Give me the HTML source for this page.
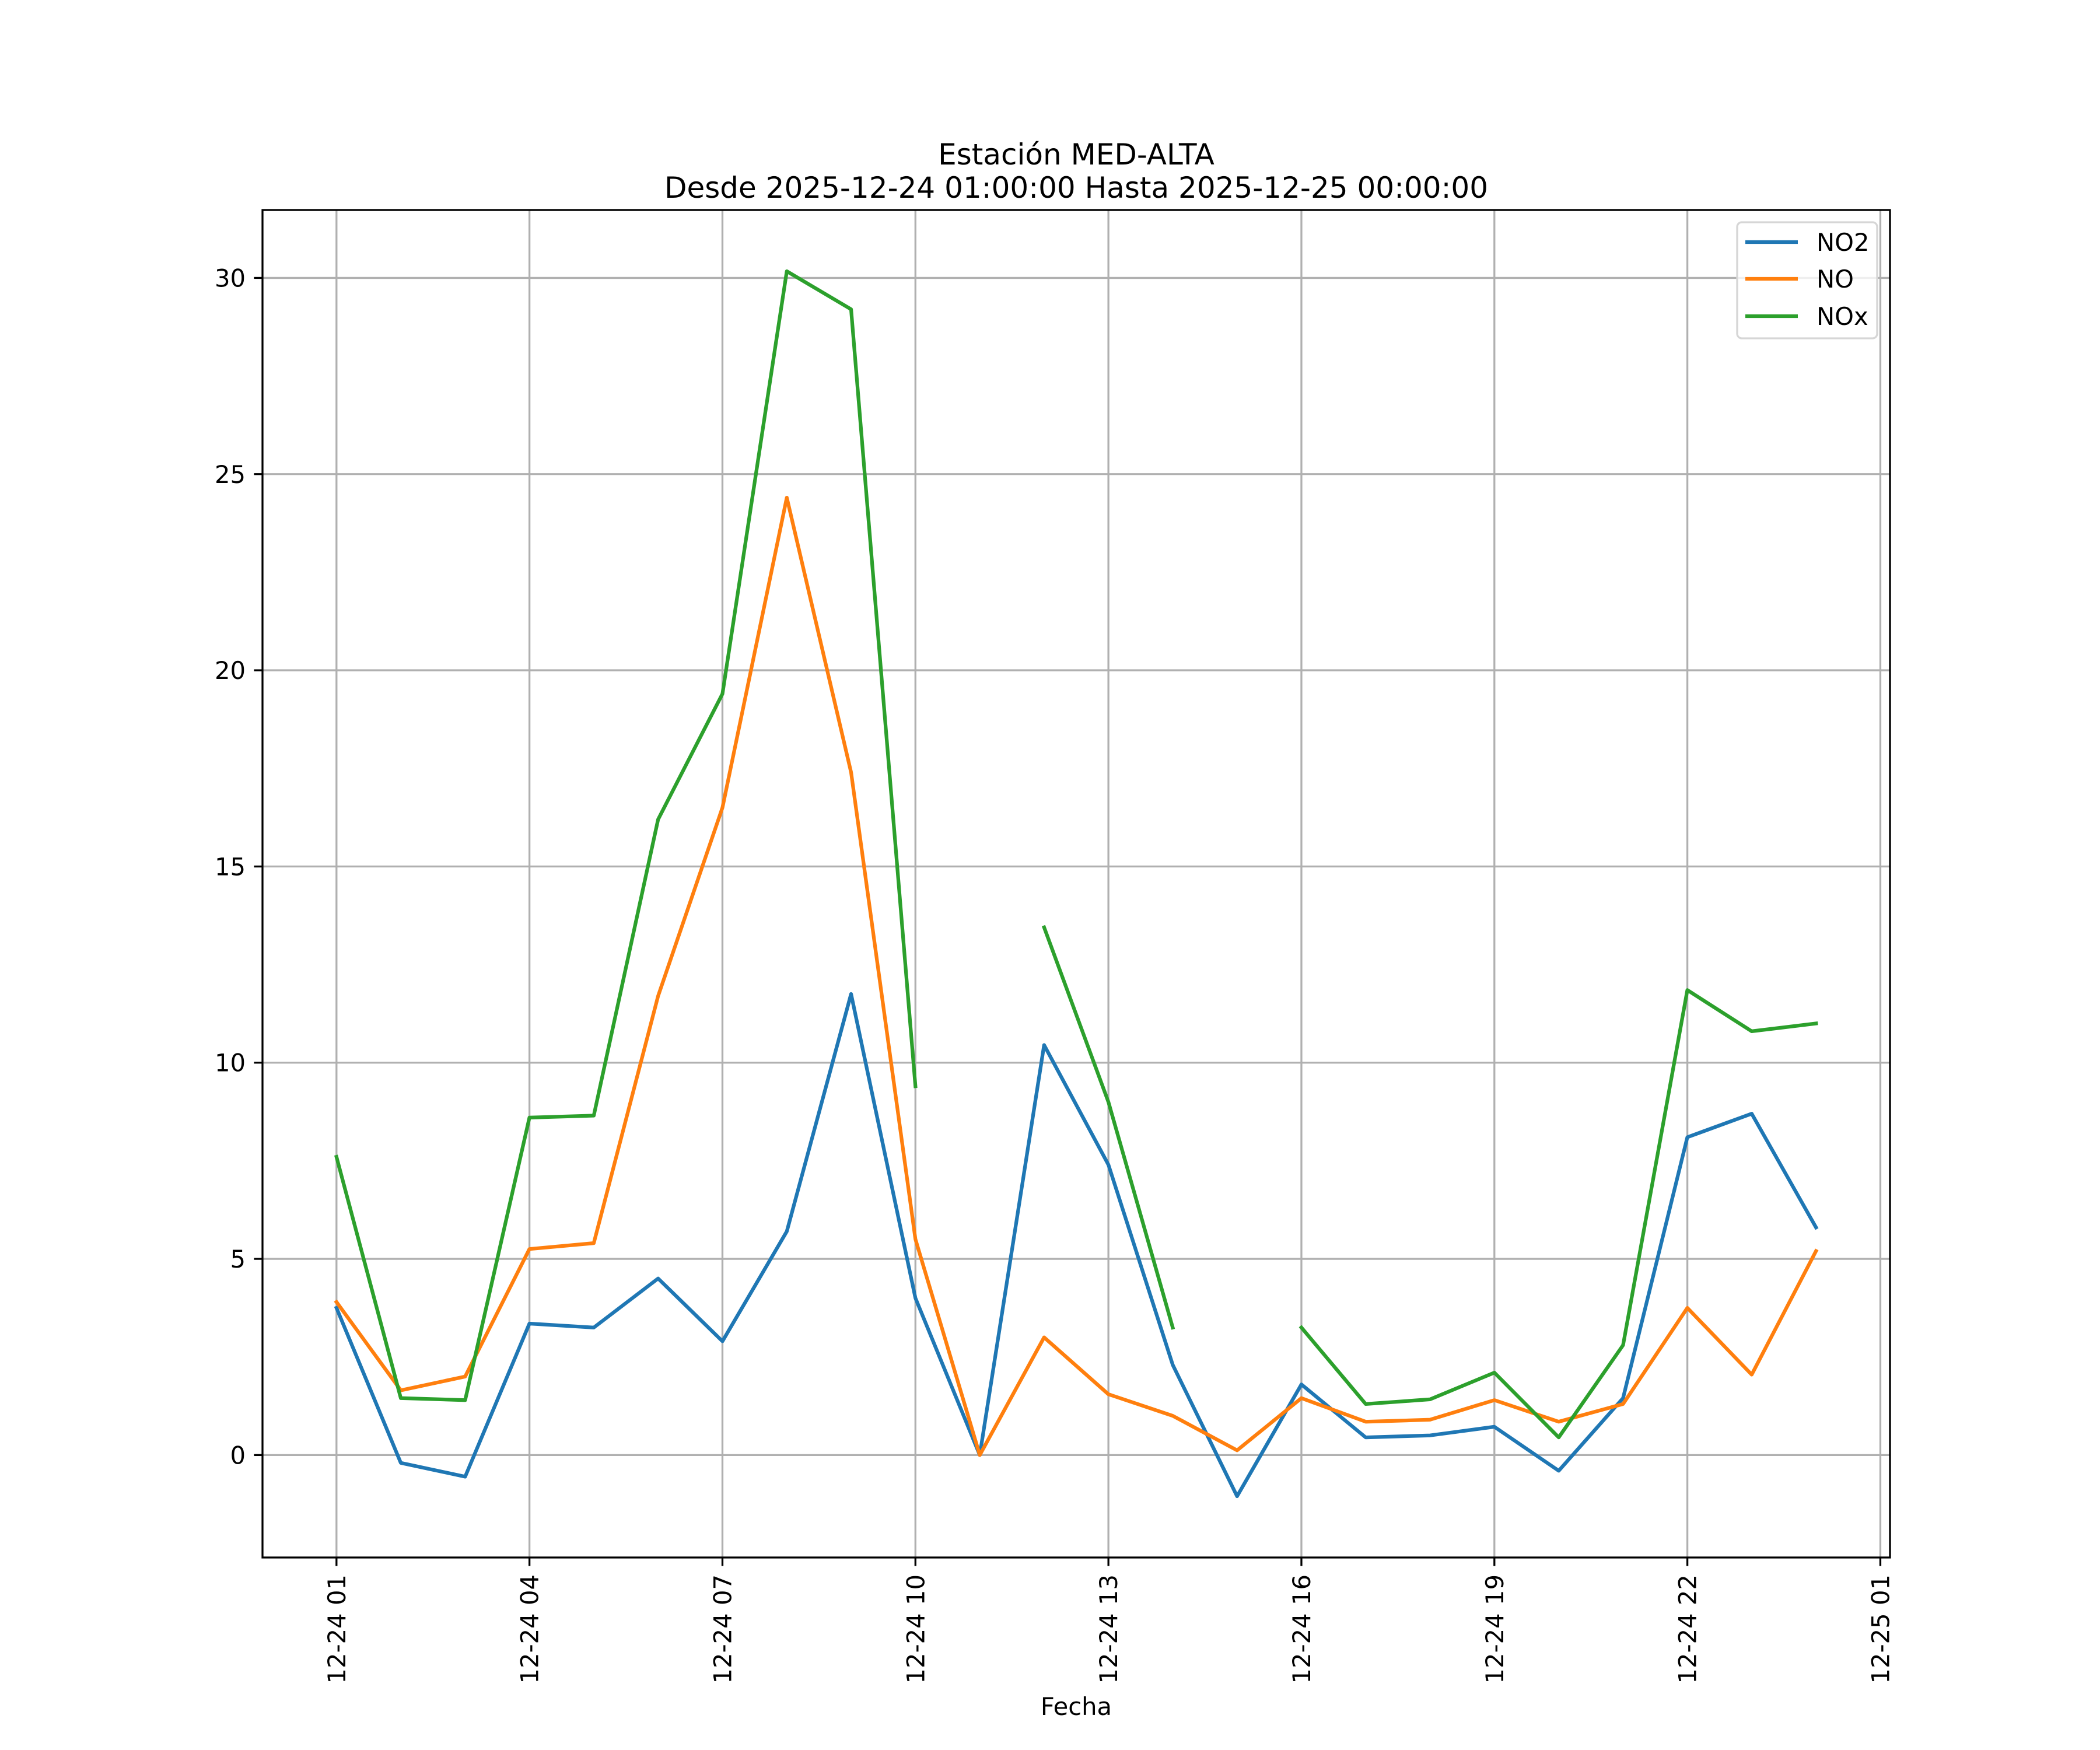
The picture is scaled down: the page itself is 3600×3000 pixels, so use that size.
<!DOCTYPE html>
<html><head><meta charset="utf-8"><style>
html,body{margin:0;padding:0;background:#fff;}
svg{display:block;font-family:"DejaVu Sans","Liberation Sans",sans-serif;}
</style></head><body>
<svg id="chart" width="3600" height="3000" viewBox="0 0 3600 3000" xmlns="http://www.w3.org/2000/svg">
<rect width="3600" height="3000" fill="#fff"/>
<text x="1845" y="282" font-size="50" text-anchor="middle">Estación MED-ALTA</text>
<text x="1845" y="339" font-size="50" text-anchor="middle">Desde 2025-12-24 01:00:00 Hasta 2025-12-25 00:00:00</text>
<g id="grid"></g>
<g id="series"></g>
<rect x="450" y="360" width="2790" height="2310" fill="none" stroke="#000" stroke-width="3.3"/>
<g id="ticks"></g>
<text x="1845" y="2940" font-size="41.7" text-anchor="middle">Fecha</text>
<g>
<rect x="2978" y="381" width="240" height="199" rx="8" fill="#fff" fill-opacity="0.8" stroke="#d6d6d6" stroke-width="3.3"/>
<line x1="2992" y1="415" x2="3082" y2="415" stroke="#1f77b4" stroke-width="6.25"/>
<text x="3114" y="430" font-size="41.7">NO2</text>
<line x1="2992" y1="478" x2="3082" y2="478" stroke="#ff7f0e" stroke-width="6.25"/>
<text x="3114" y="493" font-size="41.7">NO</text>
<line x1="2992" y1="542" x2="3082" y2="542" stroke="#2ca02c" stroke-width="6.25"/>
<text x="3114" y="557" font-size="41.7">NOx</text>
</g>
</svg>
<script>
const hours = [1,2,3,4,5,6,7,8,9,10,11,12,13,14,15,16,17,18,19,20,21,22,23,24];
const no2 = [3.75,-0.2,-0.55,3.35,3.25,4.5,2.9,5.7,11.75,4.0,0.0,10.45,7.4,2.3,-1.05,1.8,0.45,0.5,0.72,-0.4,1.45,8.1,8.7,5.8];
const no = [3.9,1.65,2.0,5.25,5.4,11.7,16.5,24.4,17.4,5.5,0.0,3.0,1.55,1.0,0.12,1.45,0.85,0.9,1.4,0.85,1.3,3.75,2.05,5.2];
const nox = [7.6,1.45,1.4,8.6,8.65,16.2,19.4,30.17,29.2,9.4,null,13.45,9.0,3.25,null,3.25,1.3,1.42,2.1,0.45,2.8,11.85,10.8,11.0];
const xTickHours = [1,4,7,10,13,16,19,22,25];
const xTickLabels = ["12-24 01","12-24 04","12-24 07","12-24 10","12-24 13","12-24 16","12-24 19","12-24 22","12-25 01"];
const yTicks = [0,5,10,15,20,25,30];

const NS="http://www.w3.org/2000/svg";
const L=450,R=3240,T=360,B=2670;
const allV=[...no2,...no,...nox].filter(v=>v!==null);
const vmin=Math.min(...allV), vmax=Math.max(...allV);
const ypad=(vmax-vmin)*0.05, y0=vmin-ypad, y1=vmax+ypad;
const hmin=Math.min(...hours), hmax=Math.max(...hours);
const xpad=(hmax-hmin)*0.05, x0=hmin-xpad, x1=hmax+xpad;
const X=h=>L+(h-x0)/(x1-x0)*(R-L);
const Y=v=>B-(v-y0)/(y1-y0)*(B-T);
function mk(tag,attrs,parent){const e=document.createElementNS(NS,tag);for(const k in attrs)e.setAttribute(k,attrs[k]);parent.appendChild(e);return e;}
const grid=document.getElementById('grid'), ticks=document.getElementById('ticks'), series=document.getElementById('series');
xTickHours.forEach((h,i)=>{
  const x=X(h);
  const g=mk('line',{x1:x,y1:T,x2:x,y2:B,stroke:'#b0b0b0','stroke-width':3.3},grid);
  
  
  const t=mk('line',{x1:x,y1:B,x2:x,y2:B+14.6,stroke:'#000','stroke-width':3.3},ticks);
  
  
  const tx=mk('text',{x:0,y:0,'font-size':41.7,'text-anchor':'end',transform:`translate(${x+15},${B+29}) rotate(-90)`},ticks);
  tx.textContent=xTickLabels[i];
  
  
});
yTicks.forEach(v=>{
  const y=Y(v);
  const g=mk('line',{x1:L,y1:y,x2:R,y2:y,stroke:'#b0b0b0','stroke-width':3.3},grid);
  
  
  const t=mk('line',{x1:L-14.6,y1:y,x2:L,y2:y,stroke:'#000','stroke-width':3.3},ticks);
  
  
  const tx=mk('text',{x:L-29,y:y+15,'font-size':41.7,'text-anchor':'end'},ticks);
  tx.textContent=String(v);
  
  
});
function draw(vals,color,name){
  let d='',pen=false;
  vals.forEach((v,i)=>{
    if(v===null){pen=false;return;}
    d+=(pen?'L':'M')+X(hours[i]).toFixed(1)+' '+Y(v).toFixed(1)+' ';
    pen=true;
  });
  const p=mk('path',{d:d,fill:'none',stroke:color,'stroke-width':6.25,'stroke-linejoin':'round','stroke-linecap':'square'},series);
  
  
}
draw(no2,'#1f77b4','series-no2');
draw(no,'#ff7f0e','series-no');
draw(nox,'#2ca02c','series-nox');
</script>
</body></html>
